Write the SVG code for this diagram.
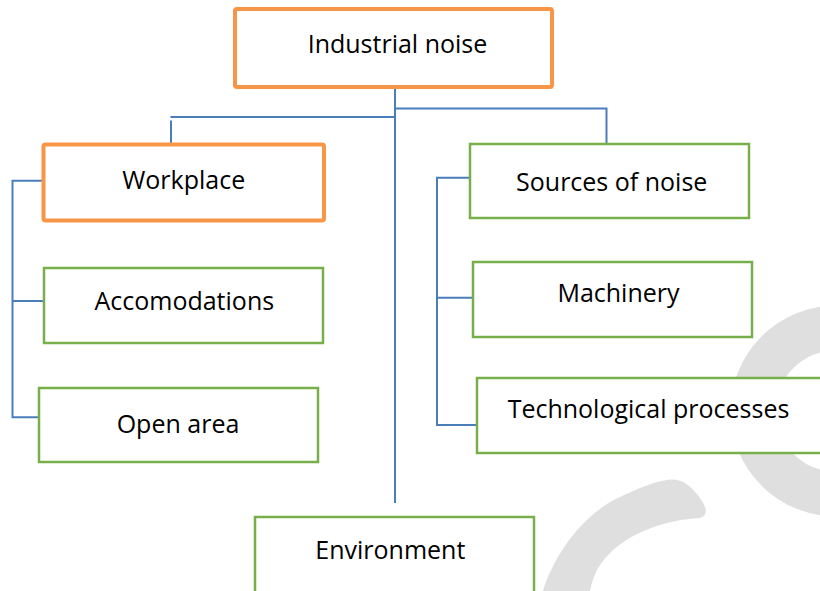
<svg xmlns="http://www.w3.org/2000/svg" width="820" height="591" viewBox="0 0 820 591">
  <style>
    .wm { fill: none; stroke: #dfdfdf; }
    .box { fill: #ffffff; }
    .orange { stroke: #f79646; stroke-width: 4; }
    .green { stroke: #77b04a; stroke-width: 2.5; }
    .lbl { font-family: "Open Sans", "Liberation Sans", sans-serif; font-size: 25px; fill: #000000; text-anchor: middle; }
    .conn { fill: none; stroke: #4a7ebb; stroke-width: 2; }
  </style>
  <rect x="0" y="0" width="820" height="591" fill="#ffffff"/>
  <g id="watermark">
    <circle class="wm" cx="836" cy="411" r="83" stroke-width="45"/>
    <path d="M543,591 C552,560 580,515 620,497 C635,490 652,482 667,480 C680,478 688,484 695,492 C703,501 712,514 700,518 C680,519 645,525 618,546 C600,560 593,575 590,591 Z" fill="#dfdfdf"/>
  </g>
  <g id="connectors">
    <path class="conn" d="M395,89 V503"/>
    <path class="conn" d="M395,108.5 H606.5 V144"/>
    <path class="conn" d="M395,117 H170.5"/>
    <path class="conn" d="M171,120.5 V143"/>
    <path class="conn" d="M43,180.7 H12.5 V417.3 H39"/>
    <path class="conn" d="M12.5,301 H44"/>
    <path class="conn" d="M470,177.7 H437 V425 H477"/>
    <path class="conn" d="M437,297.7 H473"/>
  </g>
  <g id="node-industrial-noise">
    <rect class="box orange" x="235" y="9" width="317" height="78" rx="2"/>
    <text class="lbl" x="397.5" y="53">Industrial noise</text>
  </g>
  <g id="node-workplace">
    <rect class="box orange" x="43.5" y="144.5" width="280.5" height="76" rx="2"/>
    <text class="lbl" x="183.7" y="189.3">Workplace</text>
  </g>
  <g id="node-accomodations">
    <rect class="box green" x="44" y="268" width="279" height="75"/>
    <text class="lbl" x="184.3" y="310">Accomodations</text>
  </g>
  <g id="node-open-area">
    <rect class="box green" x="39" y="388" width="279" height="74"/>
    <text class="lbl" x="178" y="432.7">Open area</text>
  </g>
  <g id="node-sources">
    <rect class="box green" x="470" y="144" width="279" height="74"/>
    <text class="lbl" x="611.7" y="191">Sources of noise</text>
  </g>
  <g id="node-machinery">
    <rect class="box green" x="473" y="262" width="279" height="75"/>
    <text class="lbl" x="618.5" y="302">Machinery</text>
  </g>
  <g id="node-technological">
    <rect class="box green" x="477" y="378" width="350" height="75"/>
    <text class="lbl" x="648.5" y="418">Technological processes</text>
  </g>
  <g id="node-environment">
    <rect class="box green" x="255" y="517" width="279" height="80"/>
    <text class="lbl" x="390.3" y="559">Environment</text>
  </g>
</svg>
